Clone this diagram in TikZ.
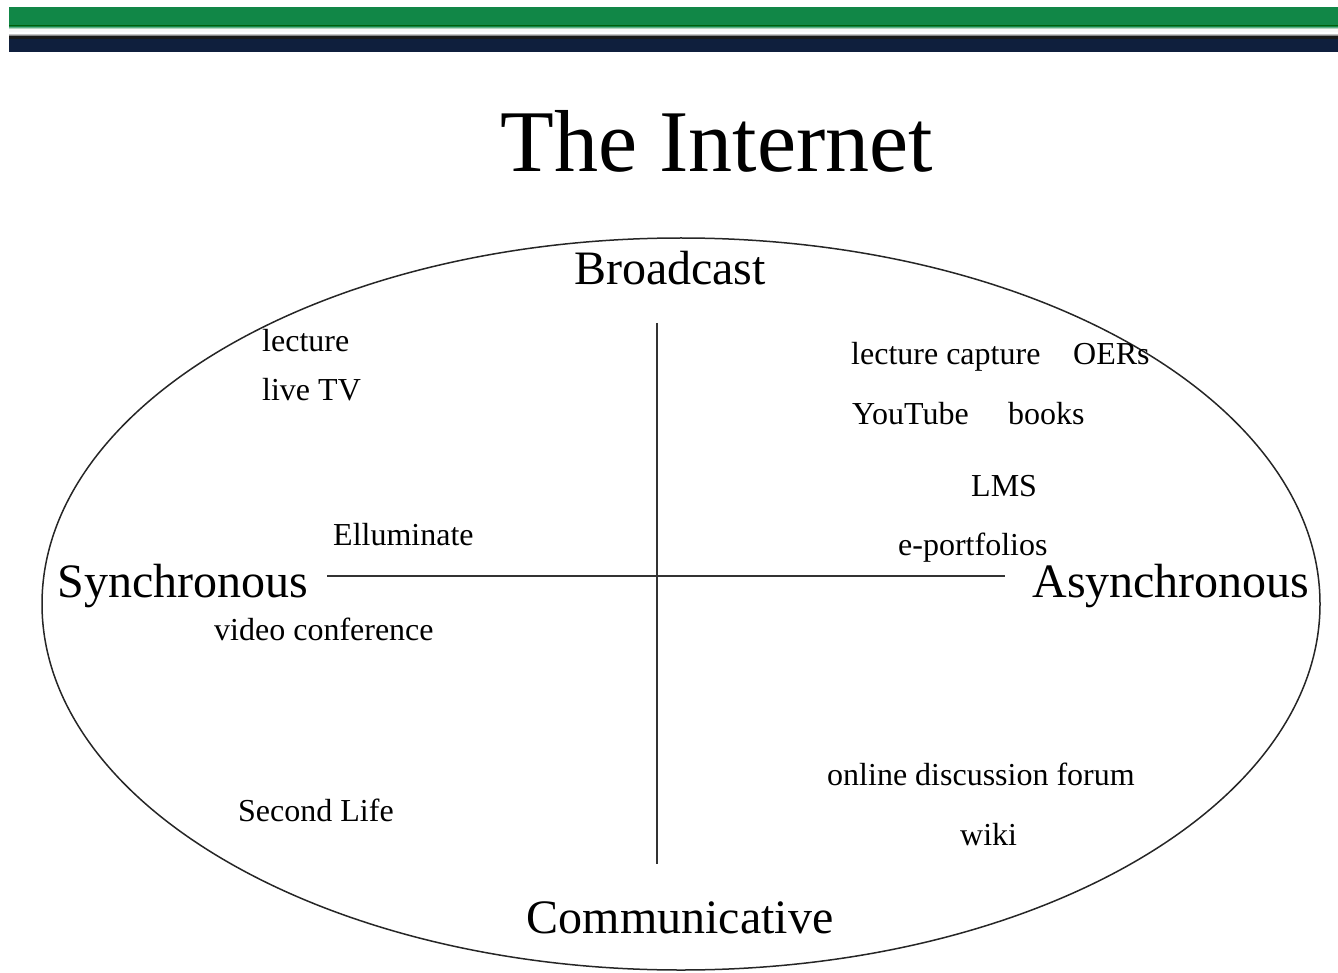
\documentclass[tikz,border=0pt]{standalone}
\usepackage{fontspec}
\setmainfont{Liberation Serif}
\definecolor{bgreen}{HTML}{118747}
\definecolor{bnavy}{HTML}{0F1F3D}
\begin{document}
\begin{tikzpicture}[x=1pt,y=-1pt,
  big/.style={font=\fontsize{48}{52}\selectfont, inner sep=0pt, anchor=base},
  item/.style={font=\fontsize{32}{35}\selectfont, inner sep=0pt, anchor=base west},
  axis/.style={line width=1.6pt, draw=black!80},
  oval/.style={line width=1.5pt, draw=black!85}]
\useasboundingbox (0,0) rectangle (1338,973);
% banner
\fill[bgreen] (9,7) rectangle (1338,27);
\shade[top color=bgreen, bottom color=white] (9,26) rectangle (1338,29);
\fill[white!95!gray] (9,29) rectangle (1338,33);
\shade[top color=white, bottom color=black!70] (9,33) rectangle (1338,36);
\fill[black!90] (9,36) rectangle (1338,39);
\fill[bnavy] (9,39) rectangle (1338,52);
% title
\node[font=\fontsize{88}{92}\selectfont, inner sep=0pt, anchor=base] (title) at (717,172) {The Internet};
% ellipse
\draw[oval] (681,604) ellipse [x radius=639, y radius=366];
% axes
\coordinate (vt) at (657,323);
\coordinate (vb) at (657,864);
\coordinate (hl) at (327,576);
\coordinate (hr) at (1005,576);
\draw[axis] (vt) -- (vb);
\draw[axis] (hl) -- (hr);
% pole labels
\node[big] (broadcast) at (670,285) {Broadcast};
\node[big] (sync) at (183,597) {Synchronous};
\node[big] (async) at (1171,597) {Asynchronous};
\node[big] (comm) at (680,933) {Communicative};
% items
\node[item] (lecture) at (262,352) {lecture};
\node[item] (livetv) at (262,400) {live TV};
\node[item] (lcap) at (851,364) {lecture capture};
\node[item] (oers) at (1073,364) {OERs};
\node[item] (youtube) at (852,424) {YouTube};
\node[item] (books) at (1008,424) {books};
\node[item] (lms) at (971,496) {LMS};
\node[item] (ellum) at (333,545) {Elluminate};
\node[item] (eport) at (898,555) {e-portfolios};
\node[item] (video) at (214,640) {video conference};
\node[item] (second) at (238,821) {Second Life};
\node[item] (forum) at (827,785) {online discussion forum};
\node[item] (wiki) at (960,845) {wiki};
\end{tikzpicture}
\end{document}
